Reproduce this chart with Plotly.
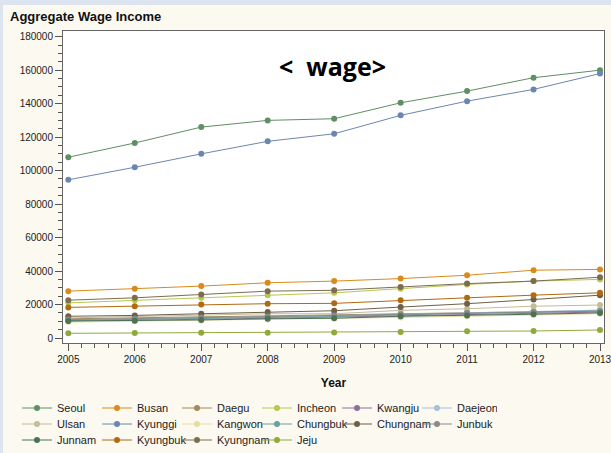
import plotly.graph_objects as go

years = [2005, 2006, 2007, 2008, 2009, 2010, 2011, 2012, 2013]

regions = ["Seoul", "Busan", "Daegu", "Incheon", "Kwangju", "Daejeon",
           "Ulsan", "Kyunggi", "Kangwon", "Chungbuk", "Chungnam", "Junbuk",
           "Junnam", "Kyungbuk", "Kyungnam", "Jeju"]

seoul = [108000, 116500, 126000, 130000, 131000, 140500, 147500, 155500, 160000]
busan = [28000, 29500, 31000, 33000, 34000, 35500, 37500, 40500, 41000]
daegu = [11500, 12000, 12500, 13200, 13800, 14500, 15200, 15800, 16300]
incheon = [21000, 22500, 24000, 25500, 27000, 29500, 32000, 34000, 35000]
kwangju = [10000, 10500, 11200, 11800, 12500, 13200, 14000, 14800, 15500]
daejeon = [10500, 11000, 11800, 12500, 13200, 14000, 15000, 15800, 16700]
ulsan = [12000, 12800, 13500, 14500, 14500, 16500, 17500, 19000, 19700]
kyunggi = [94500, 102000, 110000, 117500, 122000, 133000, 141500, 148500, 158000]
kangwon = [9500, 10000, 10500, 11000, 11700, 12300, 13000, 13800, 14500]
chungbuk = [10500, 11000, 11600, 12200, 12800, 13800, 14800, 15500, 16200]
chungnam = [13000, 13500, 14500, 15500, 16300, 18500, 20500, 23000, 25600]
junbuk = [11000, 11500, 12200, 12800, 13500, 14200, 15000, 15500, 16000]
junnam = [10200, 10300, 10800, 11500, 11800, 13000, 13500, 14200, 15000]
kyungbuk = [18300, 19000, 20000, 20500, 20700, 22500, 24000, 25600, 27000]
kyungnam = [22600, 24000, 26000, 28000, 28500, 30500, 32500, 34000, 36300]
jeju = [2800, 3000, 3200, 3200, 3300, 3600, 4000, 4200, 4800]

values = [seoul, busan, daegu, incheon, kwangju, daejeon, ulsan, kyunggi,
          kangwon, chungbuk, chungnam, junbuk, junnam, kyungbuk, kyungnam, jeju]

colors = ["#5F8F63", "#D98A1A", "#A38B5E", "#B5C94F", "#8E6E9B", "#A7BFDB",
          "#C3BC98", "#6B86B0", "#E8DCA0", "#6A9FA3", "#6E6046", "#8A8A8A",
          "#4E7256", "#B06A10", "#7E6C50", "#8FAA3A"]

y_ticks = [0, 20000, 40000, 60000, 80000, 100000, 120000, 140000, 160000, 180000]

legend_ids = ["legend", "legend2", "legend3"]

fig = go.Figure()
for i, (name, vals, col) in enumerate(zip(regions, values, colors)):
    fig.add_trace(go.Scatter(
        x=years, y=vals, name=name, mode="lines+markers",
        line=dict(color=col, width=1),
        marker=dict(color=col, size=6),
        legend=legend_ids[i // 6],
    ))

W, H = 611, 453
ml, mr, mt, mb = 63, 7, 31, 110
pw, ph = W - ml - mr, H - mt - mb

def px_x(p):
    return (p - ml) / pw

def px_y(p):
    return 1 - (p - mt) / ph

def legend_row(center_px):
    return dict(orientation="h", x=px_x(17), xanchor="left", y=px_y(center_px), yanchor="middle",
                bgcolor="rgba(0,0,0,0)", font=dict(size=11, color="#222222"),
                entrywidth=35, itemwidth=30, tracegroupgap=0)

fig.update_layout(
    width=W, height=H,
    margin=dict(l=ml, r=mr, t=mt, b=mb, autoexpand=False),
    paper_bgcolor="#FCF9F1",
    plot_bgcolor="#FFFFFF",
    font=dict(family="Liberation Sans, Arial, sans-serif", size=11, color="#222222"),
    title=dict(text="<b>Aggregate Wage Income</b>", x=10 / W, xref="container",
               y=1 - 16 / H, yref="container", yanchor="middle", xanchor="left",
               font=dict(size=13, color="#111111")),
    showlegend=True,
    legend=legend_row(408),
    legend2=legend_row(424),
    legend3=legend_row(440),
    xaxis=dict(range=[2004.92, 2013.06], tickmode="array", tickvals=years,
               ticktext=[str(y) for y in years], ticks="outside", ticklen=7,
               tickcolor="#555555", showgrid=False, zeroline=False,
               showline=True, linecolor="#666666", mirror=True, linewidth=1,
               ticklabeloverflow="allow",
               minor=dict(dtick=0.2, tick0=2005, ticks="outside", ticklen=4, tickcolor="#555555"),
               title=dict(text="<b>Year</b>", font=dict(size=12, color="#111111"), standoff=14),
               tickfont=dict(size=10, color="#222222")),
    yaxis=dict(range=[-2980, 183400], tickmode="array", tickvals=y_ticks,
               ticktext=[str(v) for v in y_ticks], ticks="outside", ticklen=7,
               tickcolor="#555555", showgrid=False, zeroline=False,
               showline=True, linecolor="#666666", mirror=True, linewidth=1,
               minor=dict(dtick=5000, ticks="outside", ticklen=4, tickcolor="#555555"),
               tickfont=dict(size=10, color="#222222")),
    annotations=[dict(text="<b>&lt;&nbsp;&nbsp;wage&gt;</b>", x=2008.98, y=162500, xref="x", yref="y",
                      showarrow=False, font=dict(family="Open Sans, sans-serif", size=25, color="#000000"))],
    shapes=[
        dict(type="rect", xref="paper", yref="paper", x0=px_x(0), x1=px_x(W), y0=px_y(5), y1=px_y(0),
             fillcolor="#DCE5EF", line=dict(width=0), layer="below"),
        dict(type="rect", xref="paper", yref="paper", x0=px_x(0), x1=px_x(3), y0=px_y(H), y1=px_y(0),
             fillcolor="#DCE5EF", line=dict(width=0), layer="below"),
    ],
)

fig.write_html("out.html", config={"displayModeBar": False},
               post_script="document.body.style.margin='0';")
